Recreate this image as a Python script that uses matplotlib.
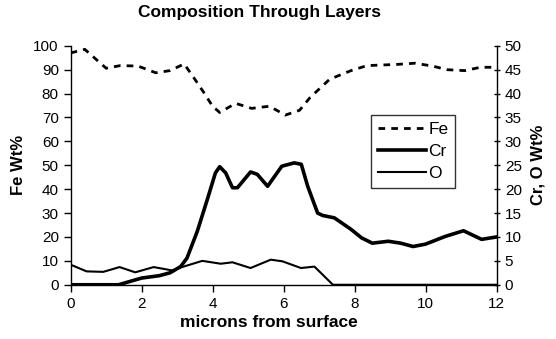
import numpy as np
import matplotlib.pyplot as plt

plt.rcParams['font.family'] = ['Liberation Sans', 'DejaVu Sans']

# Fe profile (left axis, wt%)
fe_x = [0.0, 0.4, 1.0, 1.4, 1.9, 2.4, 2.8, 3.2, 3.5, 3.75, 4.0, 4.2, 4.65, 5.1,
        5.6, 6.05, 6.45, 6.75, 7.3, 7.9, 8.35, 9.2, 9.7, 10.2, 10.6, 11.1, 11.55, 12.0]
fe_y = [97, 98.5, 90.6, 91.7, 91.5, 88.7, 89.6, 92.4, 86, 80.5, 74.7, 72.1, 75.9, 73.8,
        74.7, 71.0, 73.0, 78.4, 86, 89.6, 91.7, 92.2, 92.7, 91.5, 90, 89.6, 91, 91]

# Cr profile (right axis, wt%)
cr_x = [0.0, 1.35, 2.0, 2.5, 2.8, 3.1, 3.28, 3.57, 3.85, 4.08, 4.2, 4.37, 4.56, 4.7,
        5.07, 5.26, 5.55, 5.95, 6.3, 6.5, 6.68, 6.96, 7.1, 7.43, 7.9, 8.2, 8.5, 8.95,
        9.3, 9.65, 10.0, 10.55, 11.07, 11.58, 12.0]
cr_y = [0, 0, 1.4, 1.9, 2.5, 3.8, 5.6, 11.2, 17.8, 23.4, 24.7, 23.4, 20.3, 20.3,
        23.6, 23.1, 20.6, 24.8, 25.5, 25.2, 20.6, 15.0, 14.5, 14.0, 11.6, 9.8, 8.7, 9.1,
        8.7, 8.0, 8.5, 10.1, 11.3, 9.5, 10.0]

# O profile (right axis, wt%)
o_x = [0.0, 0.45, 0.92, 1.38, 1.82, 2.34, 2.86, 3.14, 3.71, 4.23, 4.56, 5.07, 5.64,
       5.97, 6.49, 6.87, 7.39, 8.0, 10.0, 12.0]
o_y = [4.2, 2.8, 2.7, 3.7, 2.6, 3.7, 3.0, 3.7, 5.0, 4.4, 4.7, 3.5, 5.25,
       4.9, 3.5, 3.8, 0, 0, 0, 0]

fig = plt.figure(figsize=(5.56, 3.39), dpi=100)
ax = fig.add_axes([0.127, 0.160, 0.766, 0.705])
ax2 = ax.twinx()

l1, = ax.plot(fe_x, fe_y, color='black', lw=2.0, ls=(0, (2.4, 2.2)), label='Fe')
l2, = ax2.plot(cr_x, cr_y, color='black', lw=2.6, label='Cr')
l3, = ax2.plot(o_x, o_y, color='black', lw=1.5, label='O')

ax.set_xlim(0, 12)
ax.set_ylim(0, 100)
ax2.set_ylim(0, 50)
ax.set_xticks(np.arange(0, 13, 2))
ax.set_yticks(np.arange(0, 101, 10))
ax2.set_yticks(np.arange(0, 51, 5))

for a in (ax, ax2):
    for s in a.spines.values():
        s.set_visible(False)
ax.spines['left'].set_visible(True)
ax.spines['bottom'].set_visible(True)
ax2.spines['right'].set_visible(True)
for s in (ax.spines['left'], ax.spines['bottom'], ax2.spines['right']):
    s.set_linewidth(1.0)

ax.tick_params(axis='both', labelsize=11, length=5, width=1, direction='out')
ax2.tick_params(axis='y', labelsize=11, length=5, width=1, direction='inout')

ax.set_xlabel('microns from surface', fontsize=12.5, fontweight='bold')
ax.xaxis.set_label_coords(0.4655, -0.125)
ax.set_ylabel('Fe Wt%', fontsize=12, fontweight='bold', labelpad=5)
ax2.set_ylabel('Cr, O Wt%', fontsize=12, fontweight='bold', labelpad=6)
fig.text(0.4676, 0.963, 'Composition Through Layers', fontsize=12.5,
         fontweight='bold', ha='center', va='center')

leg = ax2.legend([l1, l2, l3], ['Fe', 'Cr', 'O'], loc='upper left',
                 bbox_to_anchor=(0.705, 0.71), fontsize=12.5, frameon=True,
                 fancybox=False, edgecolor='black', handlelength=2.8,
                 handletextpad=0.1, borderpad=0.4, labelspacing=0.4, borderaxespad=0)
leg.get_frame().set_linewidth(1.0)

fig.savefig('out.png', dpi=100)
